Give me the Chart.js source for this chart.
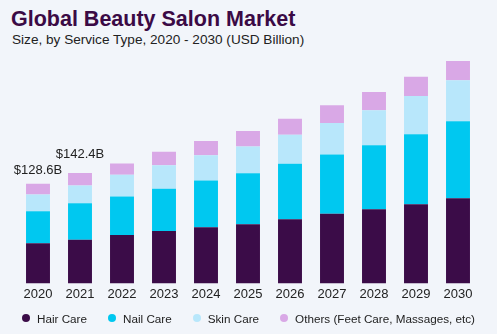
<!DOCTYPE html>
<html>
<head>
<meta charset="utf-8">
<script src="https://cdn.jsdelivr.net/npm/chart.js@4"></script>
<style>
  html, body { margin: 0; padding: 0; }
  body { width: 497px; height: 334px; background: #f2f5fa; position: relative; overflow: hidden; font-family: "Liberation Sans", Arial, sans-serif; }
  .title { position: absolute; left: 11px; top: 7px; font-size: 21.5px; font-weight: bold; color: #3b0a45; }
  .subtitle { position: absolute; left: 12px; top: 32px; font-size: 13.6px; color: #222; }
  #chart { position: absolute; left: 0; top: 0; }
  #legend { position: absolute; left: 0; width: 497px; top: 310px; height: 16px; display: flex; justify-content: center; align-items: center; font-size: 11.7px; color: #222; }
  #legend .item { display: flex; align-items: center; margin: 0 10.5px; white-space: nowrap; }
  #legend .dot { width: 8px; height: 8px; border-radius: 50%; margin-right: 7px; }
</style>
</head>
<body>
<div class="title">Global Beauty Salon Market</div>
<div class="subtitle">Size, by Service Type, 2020 - 2030 (USD Billion)</div>
<canvas id="chart" width="497" height="334"></canvas>
<div id="legend"></div>
<script>
const years = ["2020", "2021", "2022", "2023", "2024", "2025", "2026", "2027", "2028", "2029", "2030"];
const hairCare = [51.8, 56.5, 62.6, 67.5, 72.5, 76.3, 82.8, 89.8, 95.8, 102.2, 110.0];
const nailCare = [41.4, 47.0, 49.6, 54.6, 60.4, 66.0, 71.7, 76.7, 82.4, 90.2, 99.3];
const skinCare = [21.6, 22.9, 28.1, 30.3, 32.4, 34.5, 37.5, 40.5, 45.3, 49.6, 53.1];
const others = [13.8, 16.0, 14.6, 17.5, 18.5, 19.8, 20.7, 22.9, 23.7, 24.6, 24.6];
// years that get a total printed above the bar
const labelledYears = ["2020", "2021"];

const totals = years.map((_, i) => hairCare[i] + nailCare[i] + skinCare[i] + others[i]);
const FONT = "'Liberation Sans', Arial, sans-serif";

// writes the market total above selected bars
const totalLabels = {
  id: "totalLabels",
  afterDatasetsDraw(chart, args, opts) {
    const ctx = chart.ctx;
    const meta = chart.getDatasetMeta(chart.data.datasets.length - 1);
    ctx.save();
    ctx.font = "13px " + FONT;
    ctx.fillStyle = "#222";
    ctx.textAlign = "center";
    ctx.textBaseline = "alphabetic";
    labelledYears.forEach((yr, k) => {
      const i = years.indexOf(yr);
      const bar = meta.data[i];
      ctx.fillText("$" + totals[i].toFixed(1) + "B", bar.x, bar.y - opts.gaps[k]);
    });
    ctx.restore();
  },
};

// html legend built from the chart's own legend items
const htmlLegend = {
  id: "htmlLegend",
  afterUpdate(chart) {
    const box = document.getElementById("legend");
    box.innerHTML = "";
    const items = chart.options.plugins.legend.labels.generateLabels(chart);
    items.forEach((it) => {
      const el = document.createElement("div");
      el.className = "item";
      const dot = document.createElement("span");
      dot.className = "dot";
      dot.style.background = it.fillStyle;
      el.append(dot, it.text);
      box.append(el);
    });
  },
};

new Chart(document.getElementById("chart"), {
  type: "bar",
  data: {
    labels: years,
    datasets: [
      { label: "Hair Care", data: hairCare, backgroundColor: "#3b0c48" },
      { label: "Nail Care", data: nailCare, backgroundColor: "#00c8f0" },
      { label: "Skin Care", data: skinCare, backgroundColor: "#b8e7fb" },
      { label: "Others (Feet Care, Massages, etc)", data: others, backgroundColor: "#d9a8e6" },
    ],
  },
  plugins: [totalLabels, htmlLegend],
  options: {
    responsive: false,
    animation: false,
    layout: { padding: { left: 17, right: 18, top: 51, bottom: 29 } },
    datasets: {
      bar: { categoryPercentage: 1, barPercentage: 0.57, borderWidth: 0 },
    },
    scales: {
      x: {
        stacked: true,
        grid: { display: false, drawTicks: false },
        border: { display: false },
        ticks: { color: "#222", font: { size: 13, family: FONT }, padding: 3 },
      },
      y: {
        stacked: true,
        display: false,
        min: 0,
        max: 300,
      },
    },
    plugins: {
      tooltip: { enabled: false },
      totalLabels: { gaps: [10, 15] },
      legend: { display: false },
    },
  },
});
</script>
</body>
</html>
